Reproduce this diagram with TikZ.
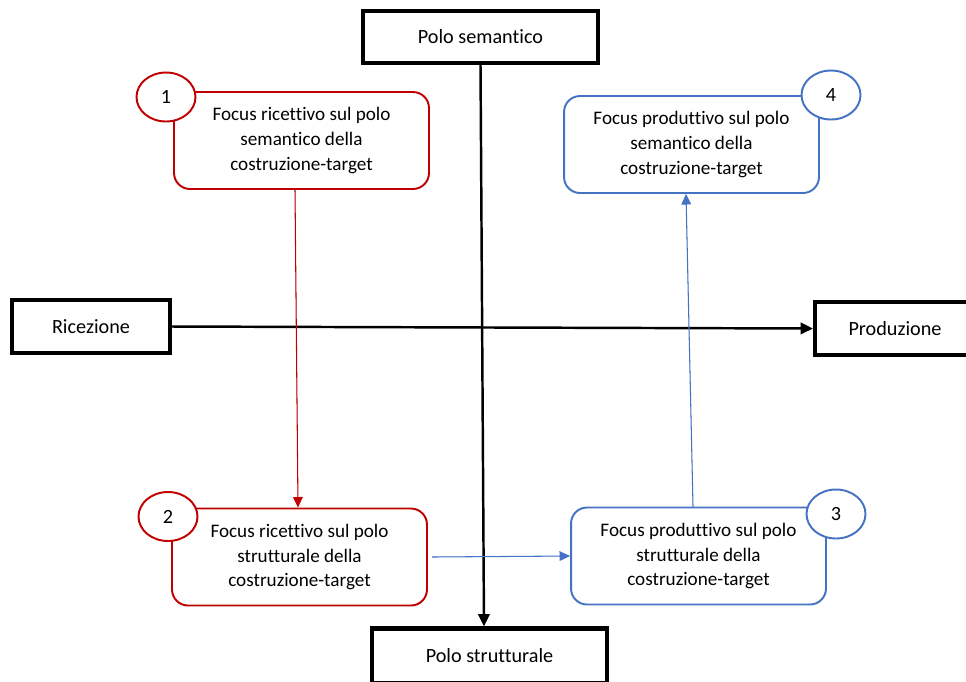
\documentclass[tikz,border=0pt]{standalone}
\usepackage{fontspec}
\setmainfont{Carlito}[Ligatures={NoCommon}]
\usetikzlibrary{arrows.meta,shapes.geometric}

\definecolor{focusred}{HTML}{C00000}
\definecolor{focusblue}{HTML}{4472C4}

\begin{document}
\begin{tikzpicture}[x=0.02cm, y=-0.02cm,
        polebox/.style={draw=black, line width=2.4pt, fill=white, font=\fontsize{11.5}{14}\selectfont},
        focusbox/.style={draw, line width=1.1pt, rounded corners=0.32cm, minimum width=5.1cm,
            minimum height=1.94cm, align=center, font=\fontsize{10.9}{14.2}\selectfont},
        numcircle/.style={draw, ellipse, line width=1.1pt, fill=white, minimum width=1.18cm,
            minimum height=0.98cm, inner sep=0pt, font=\fontsize{11.5}{14}\selectfont},
        axis/.style={line width=1.4pt, -{Triangle[length=7pt,width=6.5pt]}},
        focusarrow/.style={line width=0.6pt, -{Triangle[length=6pt,width=5.5pt]}}]
    \useasboundingbox (0,0) rectangle (966,681);
    \fill[white] (0,0) rectangle (966,681);

    % axes
    \node[polebox, minimum width=4.7cm, minimum height=1.04cm] (sem) at (480.5, 37) {Polo semantico};
    \node[polebox, minimum width=4.7cm, minimum height=1.1cm] (str) at (489.5, 656) {Polo strutturale};
    \node[polebox, minimum width=3.16cm, minimum height=1.06cm] (ric) at (91, 326.5) {Ricezione};
    \node[polebox, minimum width=3.2cm, minimum height=1.06cm] (prod) at (895, 328.5) {Produzione};

    \draw[axis] (sem.south) -- ([xshift=-0.11cm]str.north);
    \draw[axis] (ric.east) -- (prod.west);

    % the four foci
    \node[focusbox, draw=focusred] (f1) at (301.5, 140.5)
        {Focus ricettivo sul polo\\semantico della\\costruzione-target};
    \node[focusbox, draw=focusred] (f2) at (299.5, 557)
        {Focus ricettivo sul polo\\strutturale della\\costruzione-target};
    \node[focusbox, draw=focusblue] (f3) at (698.5, 556)
        {Focus produttivo sul polo\\strutturale della\\costruzione-target};
    \node[focusbox, draw=focusblue] (f4) at (691.5, 144.5)
        {Focus produttivo sul polo\\semantico della\\costruzione-target};

    \node[numcircle, draw=focusred] (n1) at (166, 97) {1};
    \node[numcircle, draw=focusred] (n2) at (168, 516.5) {2};
    \node[numcircle, draw=focusblue] (n3) at (836, 514) {3};
    \node[numcircle, draw=focusblue] (n4) at (831, 95) {4};

    \draw[focusarrow, draw=focusred, fill=focusred] ([xshift=-0.13cm]f1.south) -- ([xshift=-0.03cm]f2.north);
    \draw[focusarrow, draw=focusblue, fill=focusblue] ([xshift=0.08cm]f2.east) -- (f3.west);
    \draw[focusarrow, draw=focusblue, fill=focusblue] ([xshift=-0.11cm]f3.north) -- ([xshift=-0.11cm]f4.south);
\end{tikzpicture}
\end{document}
